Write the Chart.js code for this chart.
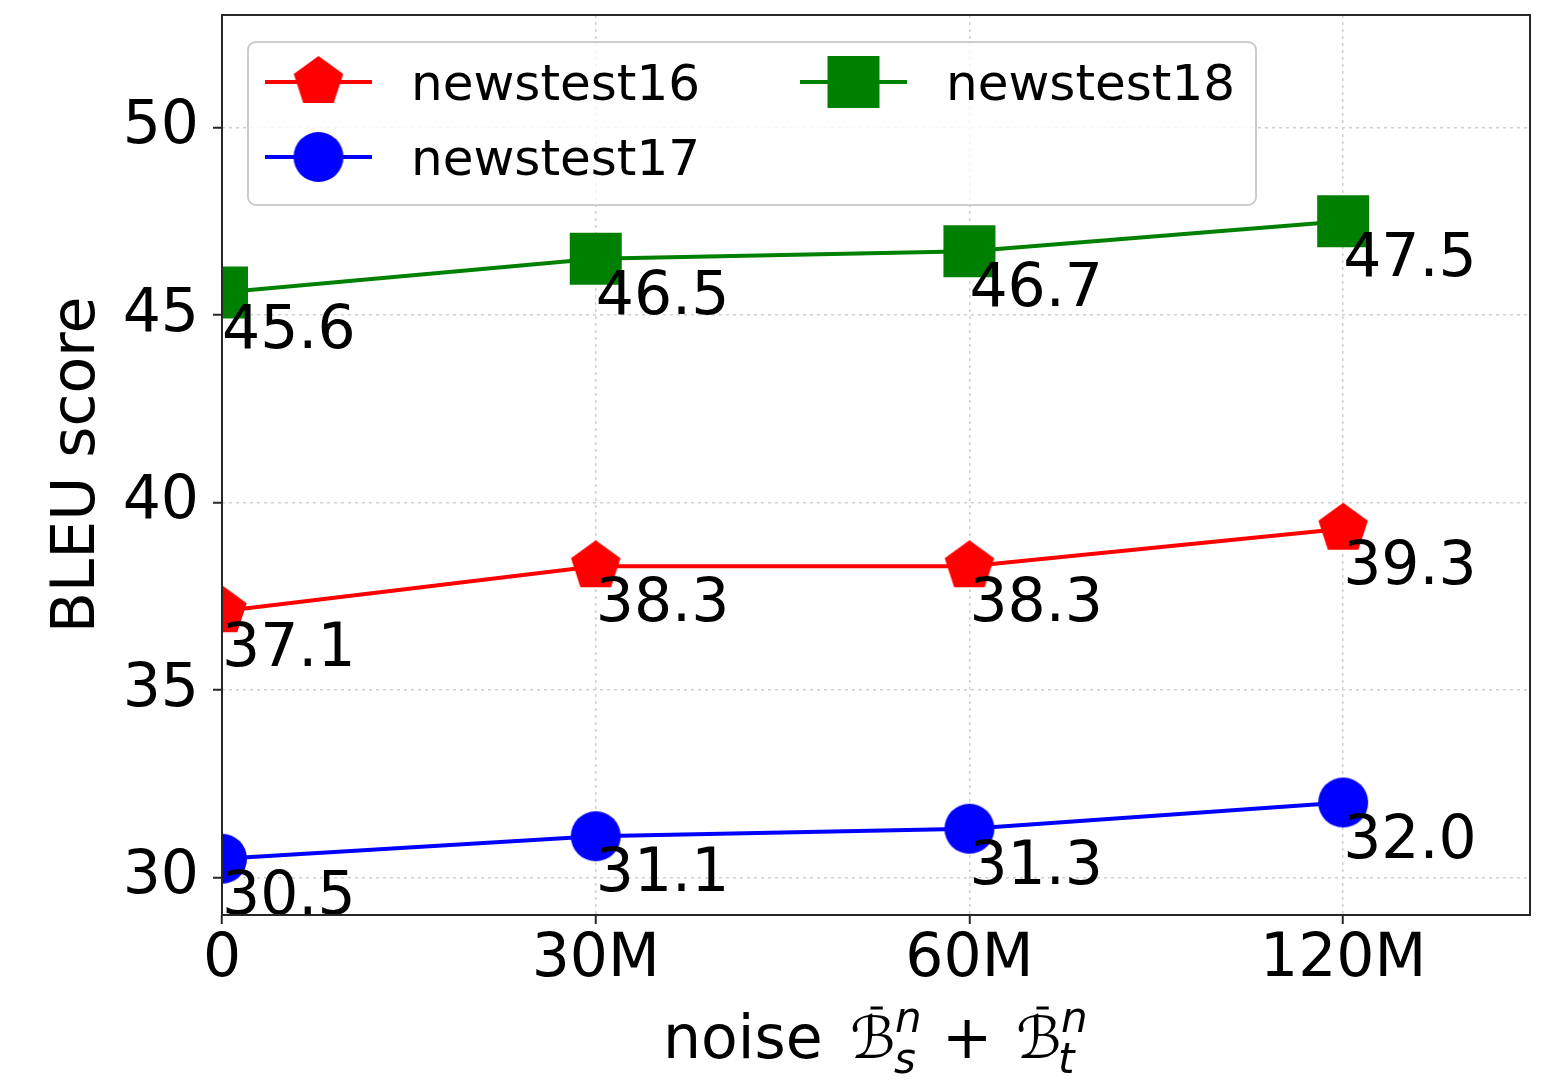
<!DOCTYPE html>
<html>
<head>
<meta charset="utf-8">
<title>BLEU score vs. noise</title>
<script src="https://cdn.jsdelivr.net/npm/chart.js@4.4.1/dist/chart.umd.min.js"></script>
<style>
  html, body { margin: 0; padding: 0; background: #ffffff; }
  #wrap { width: 1549px; height: 1080px; }
</style>
</head>
<body>
<div id="wrap"><canvas id="c" width="1549" height="1080"></canvas></div>
<script>
// ---- data ----
const tickLabels = ['0', '30M', '60M', '120M'];
const xIndex = [0, 1, 2, 3];
const yTicks = [30, 35, 40, 45, 50];
const seriesNames = ['newstest16', 'newstest17', 'newstest18'];
const newstest16 = [37.1, 38.3, 38.3, 39.3];
const newstest17 = [30.5, 31.1, 31.3, 32.0];
const newstest18 = [45.6, 46.5, 46.7, 47.5];

// ---- styling ----
const FONT = "'DejaVu Sans', 'Liberation Sans', sans-serif";
const colors = ['#ff0000', '#0000ff', '#008000'];
const markerKinds = ['pentagon', 'circle', 'square'];

function markerCanvas(kind, color) {
  const R = { pentagon: 26, circle: 25, square: 26 }[kind];
  const size = 2 * R + 4;
  const cv = document.createElement('canvas');
  cv.width = size; cv.height = size;
  const g = cv.getContext('2d');
  const c = size / 2;
  g.fillStyle = color;
  g.beginPath();
  if (kind === 'circle') {
    g.arc(c, c, R, 0, Math.PI * 2);
  } else if (kind === 'square') {
    g.rect(c - R, c - R, 2 * R, 2 * R);
  } else {
    for (let k = 0; k < 5; k++) {
      const ang = -Math.PI / 2 + k * 2 * Math.PI / 5;
      const px = c + R * Math.cos(ang), py = c + R * Math.sin(ang);
      if (k === 0) g.moveTo(px, py); else g.lineTo(px, py);
    }
    g.closePath();
  }
  g.fill();
  return cv;
}

const markers = markerKinds.map((k, i) => markerCanvas(k, colors[i]));
const seriesValues = [newstest16, newstest17, newstest18];

const datasets = seriesValues.map((vals, i) => ({
  label: seriesNames[i],
  data: vals.map((v, j) => ({ x: xIndex[j], y: v })),
  borderColor: colors[i],
  backgroundColor: colors[i],
  borderWidth: 4,
  pointStyle: markers[i],
  pointRadius: 26,
  tension: 0,
  clip: 0
}));

// value labels just below-right of each point
const valueLabels = {
  id: 'valueLabels',
  afterDatasetsDraw(chart) {
    const ctx = chart.ctx;
    ctx.save();
    ctx.font = `60px ${FONT}`;
    ctx.fillStyle = '#000000';
    ctx.textAlign = 'left';
    ctx.textBaseline = 'alphabetic';
    chart.data.datasets.forEach((ds, i) => {
      const meta = chart.getDatasetMeta(i);
      meta.data.forEach((pt, j) => {
        ctx.fillText(ds.data[j].y.toFixed(1), pt.x, pt.y + 55);
      });
    });
    ctx.restore();
  }
};

// x-axis title: noise B̄_s^n + B̄_t^n, laid out around the plot centre
function drawXTitle(chart) {
  const ctx = chart.ctx;
  const a = chart.chartArea;
  const cx = (a.left + a.right) / 2;
  const base = 1058;
  const big = `60px ${FONT}`;
  const bFont = `italic 58px ${FONT}`;
  const small = `italic 42px ${FONT}`;
  const scriptB = '\u212C';
  ctx.save();
  ctx.fillStyle = '#000000';
  ctx.strokeStyle = '#000000';
  ctx.textBaseline = 'alphabetic';
  ctx.textAlign = 'left';

  // draw text so that its ink starts at inkLeft
  function inkText(str, font, inkLeft, y) {
    ctx.font = font;
    const m = ctx.measureText(str);
    ctx.fillText(str, inkLeft + m.actualBoundingBoxLeft, y);
    return m.actualBoundingBoxLeft + m.actualBoundingBoxRight;
  }

  function bTerm(left, sub) {
    const w = inkText(scriptB, bFont, left, base);
    ctx.lineWidth = 3;
    ctx.beginPath();
    ctx.moveTo(left + w * 0.45, 1008);
    ctx.lineTo(left + w * 0.75, 1008);
    ctx.stroke();
    inkText('n', small, left + w + 3, 1032);
    inkText(sub, small, left + w + 1, 1073);
  }

  inkText('noise', big, cx - 208, base);
  bTerm(cx - 24, 's');
  inkText('+', big, cx + 72, base);
  bTerm(cx + 142, 't');
  ctx.restore();
}

function drawLegend(chart) {
  const ctx = chart.ctx;
  ctx.save();
  ctx.beginPath();
  ctx.roundRect(248, 42, 1008, 163, 8);
  ctx.fillStyle = 'rgba(255,255,255,0.8)';
  ctx.fill();
  ctx.strokeStyle = '#cccccc';
  ctx.lineWidth = 2;
  ctx.stroke();

  // entries: two columns, filled column by column
  const cols = [265, 800];
  const rows = [82, 157];
  ctx.font = `50px ${FONT}`;
  ctx.textAlign = 'left';
  ctx.textBaseline = 'alphabetic';
  chart.data.datasets.forEach((ds, i) => {
    const lx = cols[Math.floor(i / 2)];
    const ly = rows[i % 2];
    ctx.strokeStyle = ds.borderColor;
    ctx.lineWidth = 4;
    ctx.beginPath();
    ctx.moveTo(lx, ly);
    ctx.lineTo(lx + 107, ly);
    ctx.stroke();
    const m = ds.pointStyle;
    ctx.drawImage(m, lx + 53.5 - m.width / 2, ly - m.height / 2);
    ctx.fillStyle = '#000000';
    ctx.fillText(ds.label, lx + 146, ly + 18);
  });
  ctx.restore();
}

const decorations = {
  id: 'decorations',
  afterDraw(chart) {
    const { ctx, chartArea: a } = chart;
    ctx.save();
    ctx.strokeStyle = '#262626';
    ctx.lineWidth = 2;
    ctx.strokeRect(a.left, a.top, a.right - a.left, a.bottom - a.top);
    ctx.restore();
    drawXTitle(chart);
    drawLegend(chart);
  }
};

new Chart(document.getElementById('c'), {
  type: 'line',
  data: { datasets },
  options: {
    responsive: false,
    animation: false,
    devicePixelRatio: 1,
    events: [],
    layout: { autoPadding: false, padding: { left: 0, right: 19, top: 15, bottom: 0 } },
    plugins: {
      legend: { display: false },
      tooltip: { enabled: false }
    },
    scales: {
      x: {
        type: 'linear',
        min: 0,
        max: 3.5,
        afterBuildTicks: s => { s.ticks = xIndex.map(v => ({ value: v })); },
        afterFit: s => { s.height = 165; s.paddingLeft = 0; s.paddingRight = 0; },
        ticks: {
          callback: v => tickLabels[xIndex.indexOf(v)],
          font: { family: FONT, size: 60, lineHeight: 1.2 },
          color: '#000000',
          padding: 0,
          maxRotation: 0,
          autoSkip: false
        },
        grid: {
          color: '#d0d0d0',
          lineWidth: 1.5,
          tickColor: '#262626',
          tickLength: 9,
          tickWidth: 2
        },
        border: { display: false, dash: [3, 4] }
      },
      y: {
        type: 'linear',
        min: 29,
        max: 53,
        afterBuildTicks: s => { s.ticks = yTicks.map(v => ({ value: v })); },
        afterFit: s => { s.width = 222; s.paddingTop = 0; s.paddingBottom = 0; },
        ticks: {
          callback: v => String(v),
          font: { family: FONT, size: 60, lineHeight: 1.2 },
          color: '#000000',
          padding: 14
        },
        grid: {
          color: '#d0d0d0',
          lineWidth: 1.5,
          tickColor: '#262626',
          tickLength: 9,
          tickWidth: 2
        },
        border: { display: false, dash: [3, 4] },
        title: {
          display: true,
          text: 'BLEU score',
          color: '#000000',
          font: { family: FONT, size: 60, lineHeight: 1.2 },
          padding: { top: 42, bottom: 0 }
        }
      }
    }
  },
  plugins: [valueLabels, decorations]
});
</script>
</body>
</html>
